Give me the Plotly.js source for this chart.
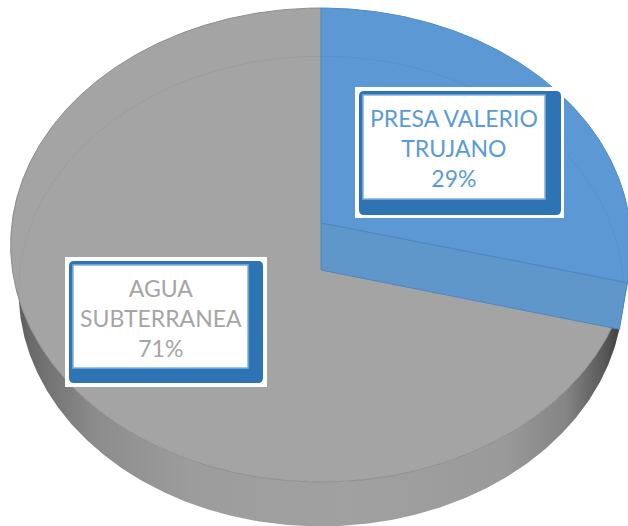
<!DOCTYPE html>
<html>
<head>
<meta charset="utf-8">
<script src="https://cdn.plot.ly/plotly-3.0.1.min.js"></script>
<style>html,body{margin:0;padding:0;background:#fff;}#chart{width:628px;height:526px;}</style>
</head>
<body>
<div id="chart"></div>
<script>
// ---- data ----
const categories = ["PRESA VALERIO TRUJANO", "AGUA SUBTERRANEA"];
const labelLines = [["PRESA VALERIO", "TRUJANO"], ["AGUA", "SUBTERRANEA"]];
const values = [29, 71];
const colors = ["#5B98D4", "#A4A4A4"];
const labelColors = ["#5B9BD5", "#A5A5A5"];

// ---- 3D pie projection (perspective) ----
const W = 628, H = 526;
const cx = 321, cy = 223;
const alpha = 49.5 * Math.PI / 180;
const c = Math.cos(alpha), s = Math.sin(alpha);
const ratio = 259 / 215;
const D = c * (ratio + 1) / (ratio - 1);
const f = 215 * (D + c) / s;
const h = 47 * D / (f * c - 47 * s);

function proj(X, Y, Z) {
  const depth = D + Y * c - Z * s;
  const up = Y * s + Z * c;
  return [cx + f * X / depth, cy - f * up / depth];
}
function arc(t0, t1, Z, R) {
  R = R || 1;
  const n = Math.max(2, Math.ceil(Math.abs(t1 - t0) / 0.5));
  const xs = [], ys = [];
  for (let i = 0; i <= n; i++) {
    const t = (t0 + (t1 - t0) * i / n) * Math.PI / 180;
    const p = proj(R * Math.cos(t), R * Math.sin(t), Z);
    xs.push(p[0]); ys.push(p[1]);
  }
  return [xs, ys];
}

const total = values.reduce((a, b) => a + b, 0);
// slices start at 12 o'clock going clockwise
const slices = [];
let start = 90;
values.forEach((v, i) => {
  const sweep = v / total * 360;
  slices.push({ t0: start, t1: start - sweep, color: colors[i] });
  start -= sweep;
});
const blue = slices[0], gray = slices[1];

const traces = [];
const base = { type: "scatter", mode: "lines", fill: "toself", hoverinfo: "skip", showlegend: false };

// gray outer wall (front part)
{
  const a = arc(gray.t0, -200, 0);
  const b = arc(-200, gray.t0, -h);
  traces.push(Object.assign({}, base, {
    x: a[0].concat(b[0]), y: a[1].concat(b[1]),
    line: { width: 0 },
    fillgradient: {
      type: "horizontal", start: 0, stop: W,
      colorscale: [[0, "#4a4a4a"], [0.05, "#6a6a6a"], [0.15, "#8c8c8c"], [0.3, "#9c9c9c"],
                   [0.55, "#a1a1a1"], [0.8, "#9a9a9a"], [0.9, "#858585"], [0.96, "#5a5a5a"], [1, "#353535"]]
    }
  }));
}
// blue outer wall (small visible part on the right)
{
  const a = arc(0, blue.t1, 0);
  const b = arc(blue.t1, 0, -h);
  traces.push(Object.assign({}, base, {
    x: a[0].concat(b[0]), y: a[1].concat(b[1]),
    line: { width: 0 }, fillcolor: "#4C82B6"
  }));
}
// gray top face
{
  const a = arc(gray.t0, gray.t1, 0);
  const p0 = proj(0, 0, 0);
  traces.push(Object.assign({}, base, {
    x: [p0[0]].concat(a[0], [p0[0]]), y: [p0[1]].concat(a[1], [p0[1]]),
    line: { width: 1, color: "#8e8e8e" }, fillcolor: gray.color
  }));
}
// blue top face
{
  const a = arc(blue.t0, blue.t1, 0);
  const p0 = proj(0, 0, 0);
  traces.push(Object.assign({}, base, {
    x: [p0[0]].concat(a[0], [p0[0]]), y: [p0[1]].concat(a[1], [p0[1]]),
    line: { width: 1, color: "#4F8CC8" }, fillcolor: blue.color
  }));
}
// faint far edge of the bottom face, seen through the top
{
  const a = arc(-12, 192, -h);
  traces.push({ type: "scatter", mode: "lines", x: a[0], y: a[1], hoverinfo: "skip", showlegend: false,
    line: { width: 1, color: "rgba(0,0,0,0.045)" } });
}
// blue radial cut face
{
  const t = blue.t1 * Math.PI / 180;
  const X = Math.cos(t), Y = Math.sin(t);
  const pts = [proj(0, 0, 0), proj(X, Y, 0), proj(X, Y, -h), proj(0, 0, -h), proj(0, 0, 0)];
  traces.push(Object.assign({}, base, {
    x: pts.map(p => p[0]), y: pts.map(p => p[1]),
    line: { width: 1, color: "#4C87C2" }, fillcolor: "#6097CA"
  }));
}

// ---- label boxes ----
function roundRect(x0, y0, x1, y1, r) {
  return `M${x0 + r},${y0} L${x1 - r},${y0} Q${x1},${y0} ${x1},${y0 + r} L${x1},${y1 - r} Q${x1},${y1} ${x1 - r},${y1} ` +
         `L${x0 + r},${y1} Q${x0},${y1} ${x0},${y1 - r} L${x0},${y0 + r} Q${x0},${y0} ${x0 + r},${y0} Z`;
}
const boxes = [
  { halo: [355, 87, 564, 218], frame: [359, 91, 561, 215], inner: [363, 95, 545, 199] },
  { halo: [65, 257, 267, 387], frame: [69, 261, 263, 383], inner: [73, 265, 248, 368] }
];
const shapes = [];
const annotations = [];
boxes.forEach((b, i) => {
  shapes.push({ type: "rect", xref: "x", yref: "y", x0: b.halo[0], y0: b.halo[1], x1: b.halo[2], y1: b.halo[3],
    fillcolor: "#ffffff", line: { width: 0 } });
  shapes.push({ type: "path", xref: "x", yref: "y", path: roundRect(b.frame[0], b.frame[1], b.frame[2], b.frame[3], 5),
    fillcolor: "#2E74B5", line: { width: 0 } });
  shapes.push({ type: "rect", xref: "x", yref: "y", x0: b.inner[0], y0: b.inner[1], x1: b.inner[2], y1: b.inner[3],
    fillcolor: "#ffffff", line: { width: 1.5, color: "#7FB1E0" } });
  const pct = Math.round(values[i] / total * 100) + "%";
  annotations.push({
    xref: "x", yref: "y", x: (b.inner[0] + b.inner[2]) / 2, y: (b.inner[1] + b.inner[3]) / 2 + 1,
    xanchor: "center", yanchor: "middle", showarrow: false, align: "center",
    text: labelLines[i].concat([pct]).join("<br>"),
    font: { family: "Lato, sans-serif", size: 23, color: labelColors[i] }
  });
});

const layout = {
  width: W, height: H,
  margin: { l: 0, r: 0, t: 0, b: 0, pad: 0 },
  paper_bgcolor: "#ffffff", plot_bgcolor: "#ffffff",
  xaxis: { range: [0, W], visible: false, fixedrange: true },
  yaxis: { range: [H, 0], visible: false, fixedrange: true },
  shapes: shapes, annotations: annotations, showlegend: false
};
Plotly.newPlot("chart", traces, layout, { displayModeBar: false, staticPlot: true });
</script>
</body>
</html>
